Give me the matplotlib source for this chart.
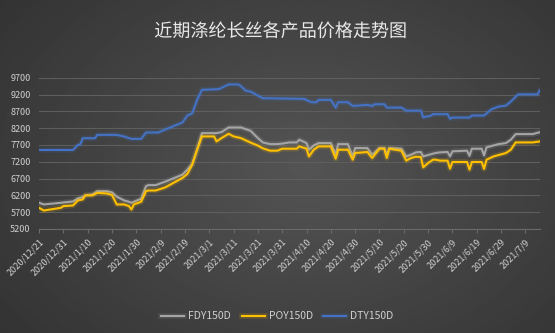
#! /usr/bin/env python3
# Polyester filament prices: FDY / POY / DTY 150D, Dec 2020 - Jul 2021

import numpy as np
import pandas as pd
import matplotlib
matplotlib.use("Agg")
import matplotlib.pyplot as plt
import matplotlib.patheffects as pe

plt.rcParams['font.family'] = ['Noto Sans CJK SC', 'DejaVu Sans']

TITLE = "近期涤纶长丝各产品价格走势图"

# DTY150D
dty_dates = ["2020-12-21", "2021-01-04", "2021-01-06", "2021-01-07", "2021-01-08",
             "2021-01-13", "2021-01-14", "2021-01-22", "2021-01-25", "2021-01-28",
             "2021-02-01", "2021-02-03", "2021-02-08", "2021-02-18", "2021-02-20",
             "2021-02-22", "2021-02-24", "2021-02-26", "2021-03-05", "2021-03-09",
             "2021-03-13", "2021-03-14", "2021-03-16", "2021-03-18", "2021-03-23",
             "2021-04-09", "2021-04-12", "2021-04-14", "2021-04-15", "2021-04-20",
             "2021-04-22", "2021-04-23", "2021-04-27", "2021-04-29", "2021-05-05",
             "2021-05-07", "2021-05-08", "2021-05-12", "2021-05-13", "2021-05-19",
             "2021-05-21", "2021-05-27", "2021-05-28", "2021-05-31", "2021-06-01",
             "2021-06-07", "2021-06-08", "2021-06-09", "2021-06-16", "2021-06-17",
             "2021-06-22", "2021-06-25", "2021-06-28", "2021-07-01", "2021-07-03",
             "2021-07-06", "2021-07-14", "2021-07-15"]
dty = [7550, 7550, 7700, 7720, 7900,
       7900, 8000, 8000, 7950, 7880,
       7880, 8070, 8070, 8370, 8575,
       8640, 9040, 9340, 9360, 9500,
       9500, 9450, 9315, 9285, 9090,
       9070, 8970, 8970, 9040, 9040,
       8810, 8970, 8970, 8860, 8890,
       8860, 8910, 8910, 8810, 8810,
       8720, 8720, 8525, 8565, 8615,
       8615, 8475, 8515, 8515, 8575,
       8575, 8760, 8840, 8870, 8990,
       9205, 9205, 9335]

# FDY150D and POY150D share the same dates
fp_dates = ["2020-12-21", "2020-12-23", "2020-12-30", "2020-12-31", "2021-01-04",
            "2021-01-06", "2021-01-08", "2021-01-09", "2021-01-12", "2021-01-14",
            "2021-01-18", "2021-01-20", "2021-01-22", "2021-01-25", "2021-01-27",
            "2021-01-28", "2021-01-29", "2021-02-01", "2021-02-03", "2021-02-04",
            "2021-02-07", "2021-02-11", "2021-02-18", "2021-02-20", "2021-02-22",
            "2021-02-24", "2021-02-26", "2021-03-03", "2021-03-04", "2021-03-06",
            "2021-03-09", "2021-03-11", "2021-03-14", "2021-03-18", "2021-03-21",
            "2021-03-23", "2021-03-26", "2021-03-29", "2021-03-31", "2021-04-03",
            "2021-04-06", "2021-04-07", "2021-04-10", "2021-04-11", "2021-04-13",
            "2021-04-15", "2021-04-20", "2021-04-22", "2021-04-23", "2021-04-27",
            "2021-04-29", "2021-04-30", "2021-05-05", "2021-05-07", "2021-05-10",
            "2021-05-12", "2021-05-13", "2021-05-14", "2021-05-19", "2021-05-21",
            "2021-05-23", "2021-05-25", "2021-05-27", "2021-05-28", "2021-05-30",
            "2021-06-01", "2021-06-02", "2021-06-04", "2021-06-07", "2021-06-08",
            "2021-06-09", "2021-06-15", "2021-06-16", "2021-06-17", "2021-06-21",
            "2021-06-22", "2021-06-23", "2021-06-26", "2021-06-28", "2021-07-01",
            "2021-07-03", "2021-07-05", "2021-07-12", "2021-07-15"]
fdy = [5980, 5930, 5980, 5990, 6020,
       6110, 6150, 6200, 6230, 6325,
       6325, 6290, 6160, 6050, 6010,
       5980, 6010, 6100, 6475, 6505,
       6505, 6610, 6818, 6966, 7134,
       7558, 8052, 8052, 8052, 8080,
       8220, 8220, 8220, 8120, 7904,
       7775, 7725, 7725, 7740, 7775,
       7775, 7855, 7755, 7558, 7687,
       7755, 7755, 7410, 7725, 7725,
       7360, 7607, 7607, 7410, 7607,
       7607, 7410, 7607, 7588, 7360,
       7410, 7480, 7490, 7360, 7400,
       7440, 7460, 7480, 7490, 7360,
       7510, 7530, 7380, 7588, 7588,
       7390, 7627, 7687, 7726, 7755,
       7855, 8022, 8022, 8081]
poy = [5830, 5750, 5830, 5880, 5900,
       6050, 6080, 6200, 6200, 6275,
       6255, 6210, 5930, 5930, 5880,
       5780, 5930, 6010, 6325, 6345,
       6345, 6440, 6720, 6838, 7114,
       7558, 7953, 7953, 7805, 7904,
       8032, 7953, 7904, 7770, 7680,
       7600, 7529, 7529, 7588, 7588,
       7588, 7657, 7588, 7360, 7558,
       7657, 7657, 7292, 7558, 7558,
       7262, 7460, 7490, 7312, 7588,
       7588, 7312, 7588, 7529, 7233,
       7312, 7350, 7340, 7035, 7163,
       7262, 7262, 7233, 7233, 6995,
       7193, 7193, 6966, 7193, 7193,
       6986, 7262, 7360, 7400, 7460,
       7558, 7775, 7775, 7805]

series = [("FDY150D", fp_dates, fdy, "#A5A5A5"),
          ("POY150D", fp_dates, poy, "#FFC000"),
          ("DTY150D", dty_dates, dty, "#4472C4")]


def main():
    fig = plt.figure(figsize=(5.55, 3.33), dpi=100)

    # dark radial background
    bg = fig.add_axes([0, 0, 1, 1], zorder=-10)
    yy, xx = np.mgrid[0:1:200j, 0:1:300j]
    r = np.sqrt(((xx - 0.55) / 0.75) ** 2 + ((yy - 0.5) / 0.9) ** 2)
    shade = 0.33 - 0.14 * np.clip(r, 0, 1)
    bg.imshow(shade, cmap="gray", vmin=0, vmax=1, aspect="auto", extent=[0, 1, 0, 1])
    bg.axis("off")

    ax = fig.add_axes([39 / 555, 1 - 229 / 333, 501 / 555, (229 - 77.7) / 333])
    ax.set_facecolor("none")

    for name, dates, vals, color in series:
        ax.plot(pd.to_datetime(dates), vals, color=color, lw=1.5, label=name,
                solid_joinstyle="round",
                path_effects=[pe.Stroke(linewidth=4, foreground=color, alpha=0.16),
                              pe.Normal()])

    ax.set_ylim(5200, 9700)
    ax.set_yticks(np.arange(5200, 9701, 500))
    ax.set_xlim(pd.Timestamp("2020-12-21"), pd.Timestamp("2021-07-15"))
    ticks = pd.date_range("2020-12-21", "2021-07-09", freq="10D")
    ax.set_xticks(ticks)
    ax.set_xticklabels([f"{d.year}/{d.month}/{d.day}" for d in ticks],
                       rotation=45, ha="right", rotation_mode="anchor")

    ax.grid(axis="y", color="#5e5e5e", lw=0.8)
    ax.set_axisbelow(True)
    for s in ["top", "right", "left"]:
        ax.spines[s].set_visible(False)
    ax.spines["bottom"].set_color("#6a6a6a")
    ax.tick_params(axis="y", length=0, colors="#d0d0d0", labelsize=6.5, pad=6)
    ax.tick_params(axis="x", length=3, color="#6a6a6a", colors="#d0d0d0",
                   labelsize=6.5, pad=3)

    title = fig.text(0.505, 0.905, TITLE, ha="center", va="center", fontsize=13,
                     color="#e8e8e8")
    title.set_path_effects([pe.withSimplePatchShadow(offset=(1, -1), alpha=0.5)])

    leg = fig.legend(loc="center", bbox_to_anchor=(0.5, 0.05), ncol=3,
                     frameon=False, fontsize=7.5, handlelength=2.2,
                     columnspacing=1.0, handletextpad=0.4)
    for t in leg.get_texts():
        t.set_color("#d0d0d0")

    plt.savefig("out.png", dpi=100)
    plt.close()


if __name__ == '__main__':
    main()
